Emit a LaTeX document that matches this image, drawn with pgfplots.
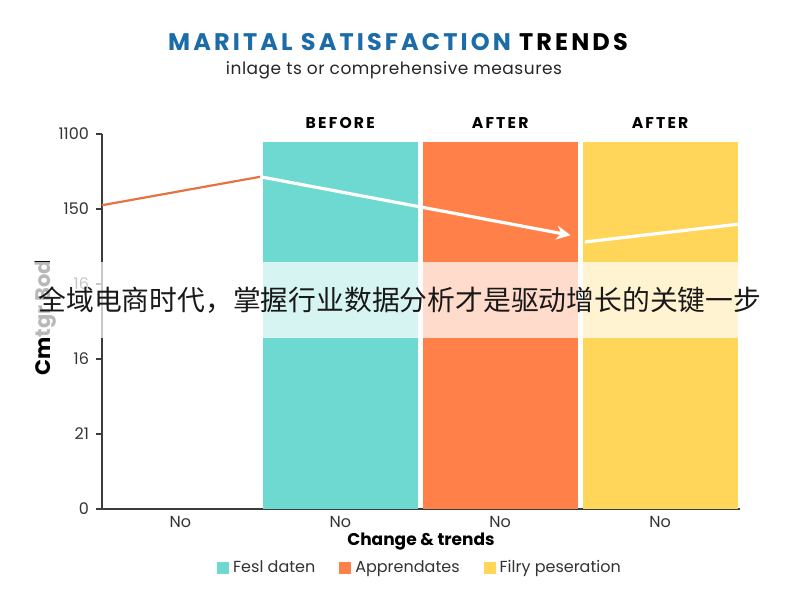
\documentclass[border=0pt]{standalone}
\usepackage{pgfplots}
\pgfplotsset{compat=1.18}
\usepackage{fontspec}
\setmainfont{Poppins}
\newfontfamily\cjk{Noto Sans CJK SC}
\usetikzlibrary{arrows.meta}
\definecolor{tealbar}{RGB}{110,217,208}
\definecolor{orangebar}{RGB}{255,128,72}
\definecolor{yellowbar}{RGB}{255,213,90}
\definecolor{titleblue}{RGB}{28,108,168}
\definecolor{axisgray}{RGB}{60,60,60}
\begin{document}
\begin{tikzpicture}
\path[use as bounding box] (0,0) rectangle (400pt,300pt);
\node[font=\bfseries\fontsize{12}{14}\selectfont\addfontfeatures{LetterSpace=13}] at (199pt,279pt) {\textcolor{titleblue}{MARITAL SATISFACTION} TRENDS};
\node[font=\fontsize{8.5}{10}\selectfont\addfontfeatures{LetterSpace=3}, text=black!85] at (197pt,265pt) {inlage ts or comprehensive measures};
\begin{axis}[
  at={(51pt,45.5pt)}, anchor=south west,
  scale only axis, width=319pt, height=187.5pt,
  xmin=-0.49, xmax=3.5, ymin=0, ymax=5,
  axis lines=left, axis line style={-, axisgray, line width=1pt},
  ytick={0,1,2,3,4,5}, yticklabels={0,21,16,16,150,1100},
  xtick={0,1,2,3}, xticklabels={No,No,No,No},
  major tick length=3pt,
  xtick style={draw=none},
  ytick style={axisgray, line width=0.8pt},
  tick align=outside,
  ticklabel style={font=\fontsize{8}{10}\selectfont, text=black!80},
  xticklabel style={yshift=3pt},
  /pgf/number format/assume math mode=true,
  xlabel={Change \& trends},
  xlabel style={font=\bfseries\fontsize{8.5}{11}\selectfont, at={(axis description cs:0.5,-0.088)}, anchor=center},
  ylabel={Cmtgr Bod},
  ylabel style={font=\bfseries\fontsize{10.5}{12}\selectfont, at={(axis description cs:-0.089,0.51)}, anchor=center},
  ybar, bar width=0.97, bar shift=0pt,
  clip=false,
  legend style={at={(0.5,-0.157)}, anchor=center, draw=none, legend columns=3,
    font=\fontsize{8}{10}\selectfont, text=black!80, /tikz/every even column/.append style={column sep=10pt}},
  legend image code/.code={\fill[#1] (0pt,-3pt) rectangle (6pt,3pt);},
]
\addplot[fill=tealbar, draw=none] coordinates {(1,4.89)};
\addlegendentry{Fesl daten}
\addplot[fill=orangebar, draw=none] coordinates {(2,4.89)};
\addlegendentry{Apprendates}
\addplot[fill=yellowbar, draw=none] coordinates {(3,4.89)};
\addlegendentry{Filry peseration}
\addplot[sharp plot, color=orangebar!90!black, line width=1.1pt, forget plot] coordinates {(-0.49,4.05) (0.5,4.43)};
\addplot[sharp plot, color=white, line width=1.6pt, -{Stealth[length=7pt,width=7pt]}, forget plot] coordinates {(0.5,4.43) (2.44,3.65)};
\addplot[sharp plot, color=white, line width=1.6pt, forget plot] coordinates {(2.53,3.56) (3.5,3.8)};
\node[font=\bfseries\fontsize{7.8}{10}\selectfont\addfontfeatures{LetterSpace=14}] at (axis cs:1,5.15) {BEFORE};
\node[font=\bfseries\fontsize{7.8}{10}\selectfont\addfontfeatures{LetterSpace=14}] at (axis cs:2,5.15) {AFTER};
\node[font=\bfseries\fontsize{7.8}{10}\selectfont\addfontfeatures{LetterSpace=14}] at (axis cs:3,5.15) {AFTER};
\end{axis}
\fill[white, opacity=0.72] (0pt,131pt) rectangle (400pt,169pt);
\node[font=\cjk\fontsize{13.9}{16}\selectfont, text=black!90] at (200pt,150pt) {全域电商时代，掌握行业数据分析才是驱动增长的关键一步};
\end{tikzpicture}
\end{document}
